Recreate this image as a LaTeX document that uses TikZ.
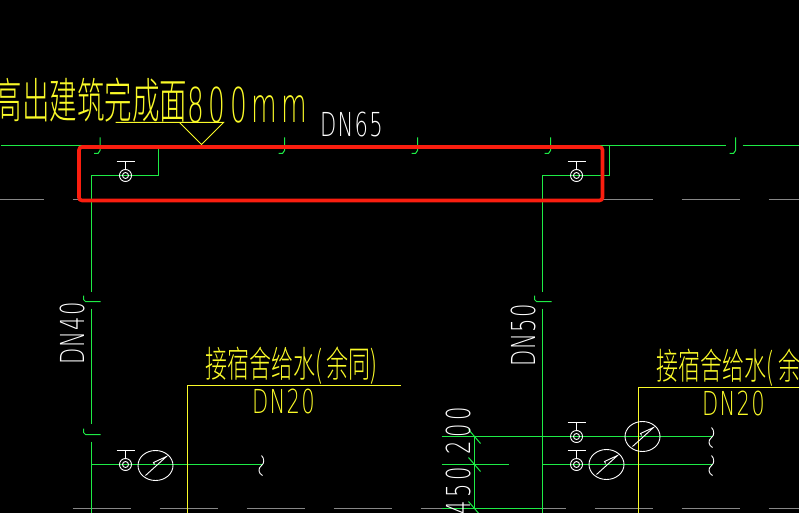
\documentclass[tikz,border=0pt]{standalone}
\usepackage{fontspec}
\setmainfont{Liberation Sans}
\newfontfamily\cadcjk{Noto Sans CJK SC Light}
\newfontfamily\cadlatin{DejaVu Sans ExtraLight}[LetterSpace=6]
\newfontfamily\cadwide{DejaVu Sans ExtraLight}[LetterSpace=17]
\definecolor{cadgreen}{RGB}{30,235,70}
\definecolor{cadyellow}{RGB}{250,250,40}
\definecolor{cadgray}{RGB}{135,135,135}
\definecolor{markred}{RGB}{250,30,15}
\newcommand{\dnlabel}[1]{\scalebox{.64}[1]{\cadlatin\fontsize{33}{33}\selectfont #1}}
\newcommand{\dimlabel}[1]{\scalebox{.64}[1]{\cadwide\fontsize{33}{33}\selectfont #1}}
\newcommand{\elevlabel}[1]{\scalebox{.55}[1]{\cadwide\fontsize{48}{48}\selectfont #1}}
\newcommand{\cnlabel}[2]{\scalebox{1}[1.65]{\cadcjk\fontsize{#1}{#1}\selectfont #2}}
\newcommand{\notelabel}[1]{\scalebox{1}[1.75]{\cadcjk\fontsize{27.5}{27.5}\selectfont #1}}
\tikzset{
  pipe/.style={cadgreen, line width=1pt},
  axis line/.style={cadgray, line width=1pt, dash pattern=on 58pt off 29pt},
  leader/.style={cadyellow, line width=1pt},
  symbol/.style={white, line width=0.9pt},
  whitelabel/.style={white, inner sep=0pt},
  yellowlabel/.style={cadyellow, inner sep=0pt},
  hookh/.pic={\draw[pipe] (0,-8) -- (0,5) -- (-2,8) -- (-6,8);},
  hookv/.pic={\draw[pipe] (9,0) -- (-6,0) -- (-8,-2) -- (-8,-6);},
  squiggle/.pic={\draw[symbol] (-1,-10) .. controls (2,-7) and (2,-2) .. (-1,0) .. controls (-5,3) and (-4,8) .. (0,10);},
  gatevalve/.pic={
    \draw[symbol] (0,0) circle (6) (0,0) circle (3);
    \draw[symbol, line width=1pt] (-9,-14) -- (9,-14) (0,-14) -- (0,-6);
  },
  flowmeter/.pic={
    \draw[symbol] (0,0) ellipse (17.5 and 15);
    \draw[symbol] (-10,10) -- (11,-9) -- (-2,-3) -- (-1,-1);
  },
  slashtick/.pic={\draw[pipe] (-6,-7) -- (6,7);},
}
\begin{document}
\begin{tikzpicture}[x=1pt, y=-1pt]
  \useasboundingbox[fill=black] (0,0) rectangle (799,513);
  \begin{scope}[shift={(0.5,0.5)}]

  % Axis lines
  \draw[axis line] (-15,199) -- (799,199);
  \draw[axis line] (72,508) -- (799,508);

  % Main pipe
  \draw[pipe] (0,145) -- (725,145);
  \draw[pipe] (742,145) -- (799,145);
  \foreach \hookx in {99.5,284,417,550,735}
    \pic at (\hookx,145) {hookh};

  % Left riser
  \draw[pipe] (158,145) -- (158,175) -- (91,175) -- (91,291);
  \draw[pipe] (91,308) -- (91,423);
  \draw[pipe] (91,441) -- (91,513);
  \pic at (91,301) {hookv};
  \pic at (91,434) {hookv};

  % Right riser
  \draw[pipe] (609,145) -- (609,175) -- (542,175) -- (542,291);
  \draw[pipe] (542,308) -- (542,513);
  \pic at (542,301) {hookv};

  % Branches
  \draw[pipe] (91,464) -- (262,464);
  \draw[pipe] (441,436) -- (712,436);
  \draw[pipe] (441,464) -- (508,464);
  \draw[pipe] (542,464) -- (712,464);
  \draw[pipe] (441,508) -- (542,508);
  \draw[pipe] (474,436) -- (474,508);
  \foreach \ticky in {436,464,508}
    \pic at (474,\ticky) {slashtick};

  % Leaders
  \draw[leader] (400,385) -- (187,385) -- (187,513);
  \draw[leader] (799,387) -- (638,387) -- (638,513);
  \draw[leader] (115,122) -- (223,122) -- (201,144) -- (179,122);

  % Valves and meters
  \foreach \valvex/\valvey in {125/175,576/175,125/464,576/436,576/464}
    \pic at (\valvex,\valvey) {gatevalve};
  \foreach \meterx/\metery in {155/465,642/436,606/464}
    \pic at (\meterx,\metery) {flowmeter};
  \foreach \curlx/\curly in {262/465,712/437,712/465}
    \pic at (\curlx,\curly) {squiggle};

  % Labels
  \node[yellowlabel, anchor=base west] (notecn) at (-6,118) {\notelabel{高出建筑完成面}};
  \node[yellowlabel, anchor=base west] (notemm) at (187,122) {\elevlabel{800mm}};
  \node[whitelabel] (dnmain) at (351,124) {\dnlabel{DN65}};
  \node[whitelabel, rotate=90] (dnleft) at (72,333) {\dnlabel{DN40}};
  \node[whitelabel, rotate=90] (dnright) at (523,335) {\dnlabel{DN50}};
  \node[whitelabel, rotate=90] (dimupper) at (458,430) {\dimlabel{200}};
  \node[whitelabel, rotate=90] (dimlower) at (458,490) {\dimlabel{450}};
  \node[yellowlabel] (supplyleft) at (291,365) {\cnlabel{22}{接宿舍给水( 余同)}};
  \node[yellowlabel, anchor=west] (supplyright) at (656,367) {\cnlabel{22}{接宿舍给水( 余}};
  \node[yellowlabel] (dnbranchl) at (283,401) {\dnlabel{DN20}};
  \node[yellowlabel] (dnbranchr) at (733,403) {\dnlabel{DN20}};

  % Red mark
  \draw[markred, line width=3.6pt, rounded corners=3pt] (78.5,146.5) rectangle (602,200);
  \end{scope}
\end{tikzpicture}
\end{document}
